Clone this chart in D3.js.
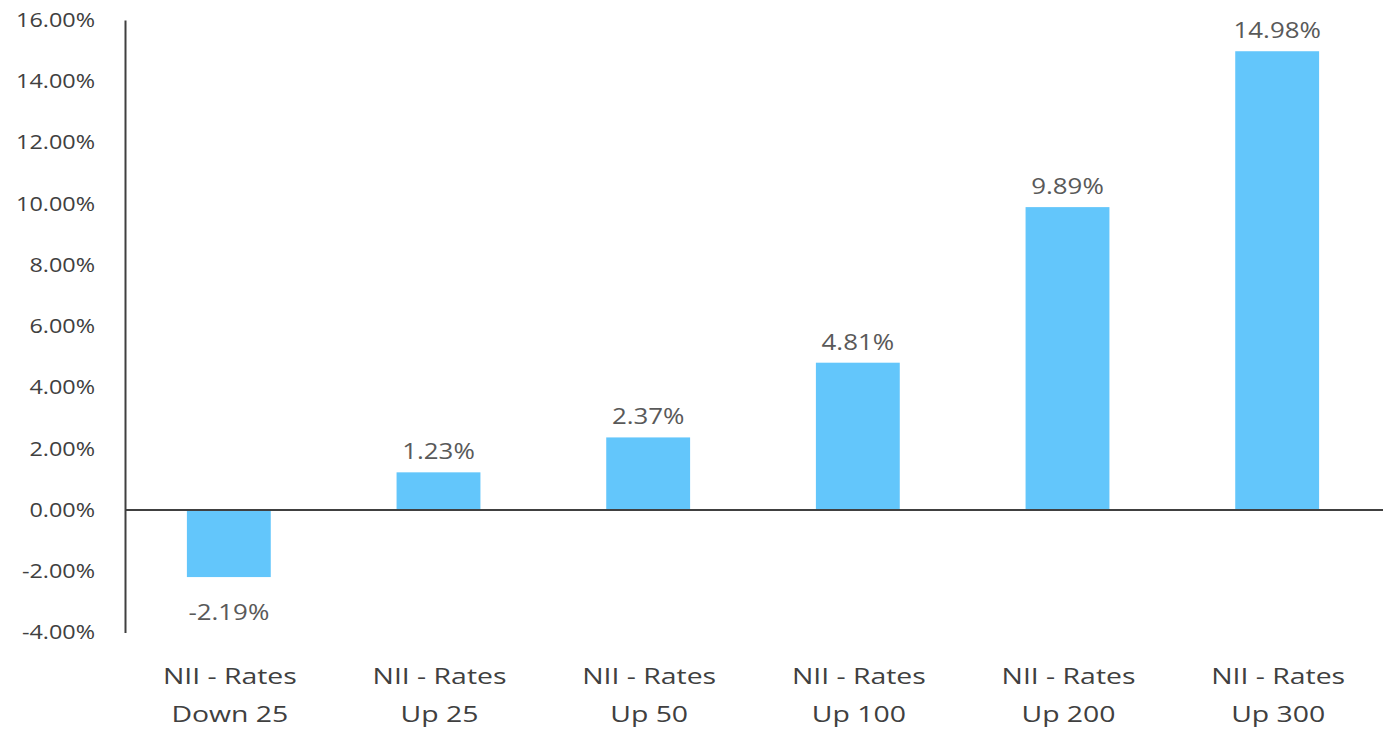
<!DOCTYPE html>
<html><head><meta charset="utf-8">
<script src="https://cdn.jsdelivr.net/npm/d3@7"></script>
<style>body{margin:0;background:#fff}svg{display:block}</style>
</head><body>
<svg id="c" width="1386" height="729"></svg>
<script>
const categoriesLine1 = ["NII - Rates","NII - Rates","NII - Rates","NII - Rates","NII - Rates","NII - Rates"];
const categoriesLine2 = ["Down 25","Up 25","Up 50","Up 100","Up 200","Up 300"];
const values = [-2.19, 1.23, 2.37, 4.81, 9.89, 14.98];
const yTicks = [-4,-2,0,2,4,6,8,10,12,14,16];

(function(){
const svg = d3.select("#c");
const mLeft = 125, mRight = 1383, mTop = 20, mBottom = 632.5;
const x = d3.scaleBand().domain(d3.range(values.length)).range([mLeft, mRight]).paddingInner(0.6).paddingOuter(0.3);
const y = d3.scaleLinear().domain([-4,16]).range([mBottom, mTop]);
const font = "'Open Sans', 'Noto Sans', sans-serif";

svg.selectAll("rect.bar").data(values).join("rect")
  .attr("x",(d,i)=>x(i)-1).attr("width",x.bandwidth())
  .attr("y",d=>y(Math.max(0,d))).attr("height",d=>Math.abs(y(d)-y(0)))
  .attr("fill","#63c6fb");

const yAxis = d3.axisLeft(y).tickValues(yTicks).tickSize(0).tickPadding(30).tickFormat(d=>d.toFixed(2)+"%");
const ga = svg.append("g").attr("transform",`translate(${mLeft},0)`).call(yAxis);
ga.select(".domain").attr("stroke","#404040").attr("stroke-width",2);
ga.selectAll("text").attr("font-family",font).attr("font-size",19.5).attr("fill","#404040")
  .attr("x",0).attr("transform",`translate(-30,0) scale(1.2,1)`);

svg.append("line").attr("x1",mLeft).attr("x2",mRight).attr("y1",y(0)).attr("y2",y(0))
  .attr("stroke","#404040").attr("stroke-width",2);

svg.selectAll("text.lbl").data(values).join("text")
  .attr("transform",(d,i)=>`translate(${x(i)+x.bandwidth()/2-1},${d>=0 ? y(d)-13 : y(d)+43}) scale(1.15,1)`)
  .attr("text-anchor","middle").attr("font-family",font).attr("font-size",22.5).attr("fill","#595959")
  .text(d=>d.toFixed(2)+"%");

const cat = svg.selectAll("g.cat").data(categoriesLine1).join("g");
cat.append("text").attr("transform",(d,i)=>`translate(${x(i)+x.bandwidth()/2},684) scale(1.29,1)`)
  .attr("text-anchor","middle").attr("font-family",font).attr("font-size",22).attr("fill","#404040").text(d=>d);
cat.append("text").attr("transform",(d,i)=>`translate(${x(i)+x.bandwidth()/2},722) scale(1.29,1)`)
  .attr("text-anchor","middle").attr("font-family",font).attr("font-size",22).attr("fill","#404040").text((d,i)=>categoriesLine2[i]);
})();
</script>
</body></html>
